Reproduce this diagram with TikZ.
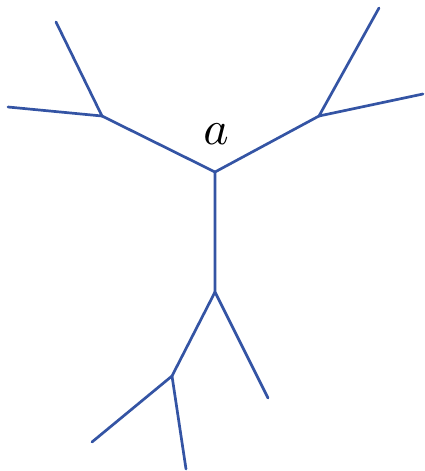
\documentclass[tikz,border=0pt]{standalone}
\definecolor{treeblue}{RGB}{52,84,164}
\tikzset{branch/.style={draw=treeblue,line width=2.7pt,line cap=round,line join=round}}
\begin{document}
\begin{tikzpicture}[x=1pt,y=-1pt]
\useasboundingbox (0,0) rectangle (424,471);
\coordinate (c) at (215,172);
\coordinate (ul) at (102,116);
\coordinate (ul1) at (56,22);
\coordinate (ul2) at (8,107);
\coordinate (ur) at (319,116);
\coordinate (ur1) at (379,8);
\coordinate (ur2) at (423,94);
\coordinate (d) at (215,292);
\coordinate (d1) at (268,398);
\coordinate (dl) at (172,376);
\coordinate (dl1) at (92,442);
\coordinate (dl2) at (186,469);
\draw[branch] (ul1) -- (ul) -- (ul2);
\draw[branch] (ul) -- (c) -- (ur);
\draw[branch] (ur1) -- (ur) -- (ur2);
\draw[branch] (c) -- (d) -- (d1);
\draw[branch] (d) -- (dl) -- (dl1);
\draw[branch] (dl) -- (dl2);
\node[anchor=base,inner sep=0pt,scale=4.8] (lab) at (216,144) {$a$};
\end{tikzpicture}
\end{document}
